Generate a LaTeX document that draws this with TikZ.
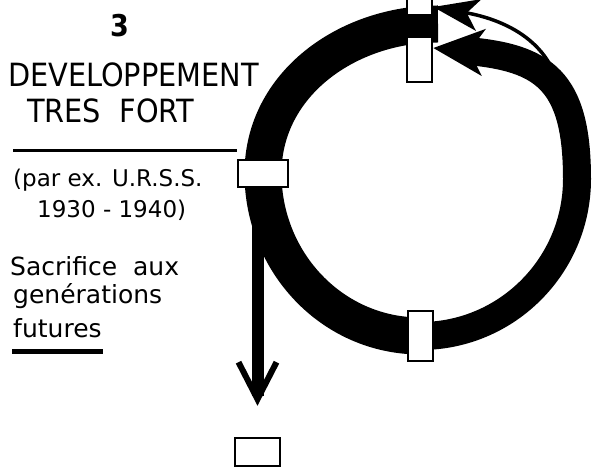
\documentclass[tikz,border=0pt]{standalone}
\usepackage{fontspec}
\setmainfont{DejaVu Sans}
\newfontfamily\condfont{DejaVu Sans Condensed}
\usepackage{tikz}
\usetikzlibrary{arrows.meta,positioning,calc,backgrounds}

\newcommand{\bigcond}{\condfont\fontsize{32pt}{32pt}\selectfont}
\newcommand{\handsmall}{\fontsize{23pt}{23pt}\selectfont}
\newcommand{\handfont}{\fontsize{25pt}{25pt}\selectfont}

\begin{document}
\begin{tikzpicture}[
  x=1pt, y=1pt,
  box/.style={rectangle, draw, line width=2.5pt, fill=white, inner sep=0pt},
  band/.style={draw, line width=37pt},
  backband/.style={draw, line width=28pt, -{Stealth[length=50pt,width=46pt,inset=14pt]}},
  thinline/.style={draw, line width=3.5pt, -{Stealth[length=46pt,width=32pt,inset=12pt]}},
  drop/.style={draw, line width=12pt, shorten >=31pt, -{Straight Barb[length=37pt,width=38pt,line width=6pt]}},
  txt/.style={anchor=base west, inner sep=0pt},
  underl/.style={line width=3pt}
]
  \useasboundingbox (0,0) rectangle (592,468);
  \clip (0,0) rectangle (592,468);

  % boxes on the loop
  \node[box, minimum width=25pt, minimum height=17pt] (topA) at (419.5,461) {};
  \node[box, minimum width=25pt, minimum height=45pt] (topB) at (419.5,408.5) {};
  \node[box, minimum width=50pt, minimum height=27pt] (leftbox) at (263,294.5) {};
  \node[box, minimum width=25pt, minimum height=50pt] (botbox) at (420.5,132) {};
  \node[box, minimum width=45pt, minimum height=28pt] (endbox) at (257.5,16) {};

  \coordinate (topmid) at (438,444);
  \coordinate (rightpt) at (577,289);
  \coordinate (branch) at (560,375);

  % the loop
  \begin{scope}[on background layer]
    \draw[band] (topmid) to[out=180,in=90] (leftbox.center)
      to[out=270,in=180] (botbox.center);
    \draw[backband] (botbox.center) to[out=0,in=270] (rightpt)
      to[out=90,in=-5,out looseness=1.3,in looseness=1.45] ($(topB.east)+(0,11.5)$);
  \end{scope}
  \draw[thinline] (branch) to[out=100,in=-10] (topA.east);
  \draw[drop] (leftbox.south -| endbox.north) -- (endbox.north);

  % texts
  \node[txt, font=\condfont\bfseries\fontsize{30pt}{30pt}\selectfont] (num) at (110,431) {3};
  \node[txt, font=\bigcond] (title) at (8,381) {DEVELOPPEMENT};
  \node[txt, font=\bigcond] (title2) at (27,345) {TRES\ \ FORT};
  \draw[underl] (13,317) -- (237,317);
  \node[txt, font=\handsmall] (ex1) at (13,281) {(par ex. U.R.S.S.};
  \node[txt, font=\handsmall] (ex2) at (37,250) {1930 - 1940)};
  \node[txt, font=\handfont] (sac) at (10,192) {Sacrifice\ \ aux};
  \node[txt, font=\handfont] (gen) at (13,164) {genérations};
  \node[txt, font=\handfont] (fut) at (13,130) {futures};
  \draw[underl, line width=5pt] (12,116) -- (103,116);
\end{tikzpicture}
\end{document}
